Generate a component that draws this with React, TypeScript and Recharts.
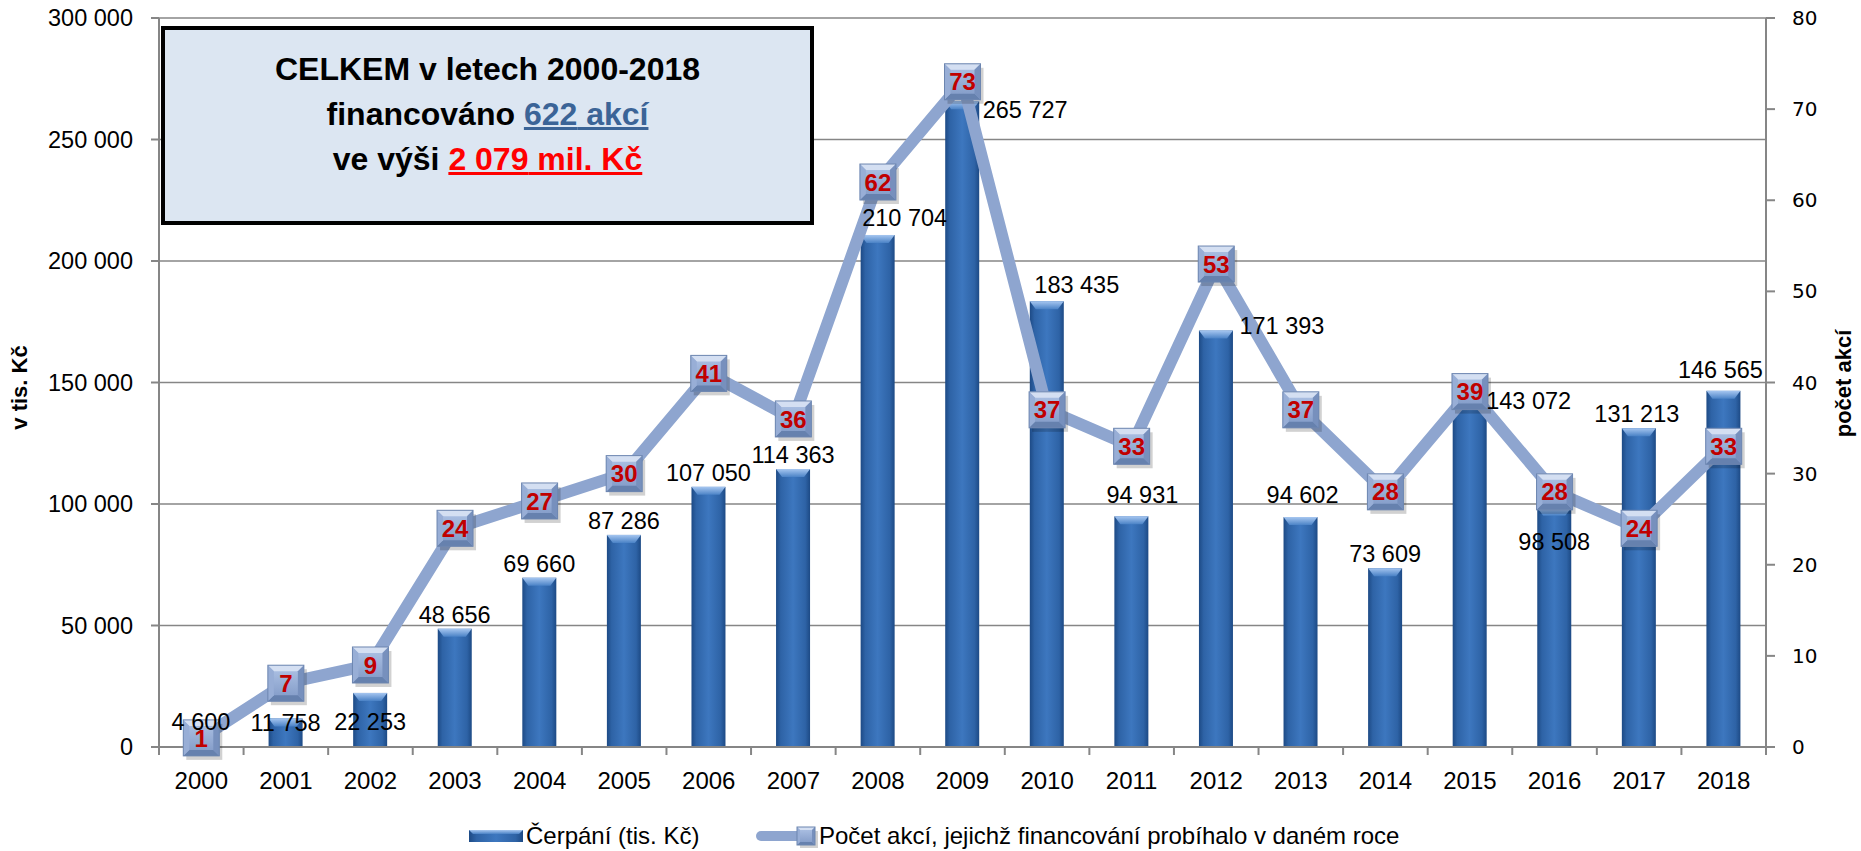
import React from 'react';
import {
  ComposedChart,
  Bar,
  Line,
  XAxis,
  YAxis,
  CartesianGrid,
  LabelList,
} from 'recharts';

// roky
const years = [
  '2000', '2001', '2002', '2003', '2004', '2005', '2006', '2007', '2008', '2009',
  '2010', '2011', '2012', '2013', '2014', '2015', '2016', '2017', '2018',
];

// Čerpání (tis. Kč)
const cerpani = [
  4600, 11758, 22253, 48656, 69660, 87286, 107050, 114363, 210704, 265727,
  183435, 94931, 171393, 94602, 73609, 143072, 98508, 131213, 146565,
];

// Počet akcí, jejichž financování probíhalo v daném roce
const pocetAkci = [1, 7, 9, 24, 27, 30, 41, 36, 62, 73, 37, 33, 53, 37, 28, 39, 28, 24, 33];

const leftTicks = [0, 50000, 100000, 150000, 200000, 250000, 300000];
const rightTicks = [0, 10, 20, 30, 40, 50, 60, 70, 80];

// ručně posunuté popisky sloupců (v px, oproti pozici nad sloupcem)
const labelShiftX = [0, 0, 0, 0, 0, 0, 0, 0, 27, 63, 30, 11, 66, 2, 0, 59, 0, -2, -3];
const labelShiftY = [0, 18, 43, 0, 0, 0, 0, 0, -3, 22, -2, -8, 9, -8, 0, 15, 48, 0, -7];

const data = years.map((year, i) => ({ year, cerpani: cerpani[i], pocet: pocetAkci[i] }));

const totalAkci = pocetAkci.reduce((a, b) => a + b, 0);
const totalMil = Math.round(cerpani.reduce((a, b) => a + b, 0) / 1000);

const W = 1861;
const H = 851;
const PLOT_LEFT = 159;
const PLOT_RIGHT = 1766;
const PLOT_TOP = 18;
const PLOT_BOTTOM = 747;
const BAND = (PLOT_RIGHT - PLOT_LEFT) / years.length;

const FONT = "'Liberation Sans', Arial, sans-serif";
const GRID = '#868686';
const LINE = '#8EA5CF';

const fmt = (v: number) => String(v).replace(/\B(?=(\d{3})+(?!\d))/g, ' ');

function BevelBar(props: any) {
  const { x, y, width, height } = props;
  if (!height || height <= 0) return null;
  const b = Math.min(8, height / 2);
  return (
    <g>
      <rect x={x} y={y} width={width} height={height} fill="url(#barBody)" />
      <polygon
        points={`${x},${y} ${x + width},${y} ${x + width - 6},${y + b} ${x + 6},${y + b}`}
        fill="url(#barTop)"
      />
    </g>
  );
}

function SquareMarker({ cx, cy, size }: { cx: number; cy: number; size: number }) {
  const s = size;
  const x = cx - s / 2;
  const y = cy - s / 2;
  const b = s / 6;
  return (
    <g>
      <rect x={x + 3} y={y + 4} width={s} height={s} fill="#000" opacity={0.18} />
      <rect x={x} y={y} width={s} height={s} fill="url(#mkFace)" />
      <polygon points={`${x},${y} ${x + s},${y} ${x + s - b},${y + b} ${x + b},${y + b}`} fill="#d4dff2" />
      <polygon points={`${x},${y + s} ${x + s},${y + s} ${x + s - b},${y + s - b} ${x + b},${y + s - b}`} fill="#6681ae" />
      <polygon points={`${x},${y} ${x + b},${y + b} ${x + b},${y + s - b} ${x},${y + s}`} fill="#98aed6" />
      <polygon points={`${x + s},${y} ${x + s - b},${y + b} ${x + s - b},${y + s - b} ${x + s},${y + s}`} fill="#7790bd" />
      <rect x={x} y={y} width={s} height={s} fill="none" stroke="#6d86b0" strokeWidth={1} />
    </g>
  );
}

function XTick(props: any) {
  const { x, payload, index } = props;
  const half = BAND / 2;
  return (
    <g>
      <line x1={x - half} x2={x - half} y1={PLOT_BOTTOM} y2={PLOT_BOTTOM + 8} stroke={GRID} strokeWidth={2} />
      {index === years.length - 1 && (
        <line x1={x + half} x2={x + half} y1={PLOT_BOTTOM} y2={PLOT_BOTTOM + 8} stroke={GRID} strokeWidth={2} />
      )}
      <text x={x} y={PLOT_BOTTOM + 34} dy="0.35em" textAnchor="middle" fontSize={24} fontFamily={FONT} fill="#000">
        {payload.value}
      </text>
    </g>
  );
}

function BarLabel(props: any) {
  const { x, y, width, value, index } = props;
  const cx = Number(x) + Number(width) / 2 + labelShiftX[index];
  const cy = Number(y) - 14 + labelShiftY[index];
  return (
    <text x={cx} y={cy} dy="0.35em" textAnchor="middle" fontSize={23.5} fontFamily={FONT} fill="#000">
      {fmt(Number(value))}
    </text>
  );
}

function CountLabel(props: any) {
  const { x, y, value } = props;
  return (
    <text x={x} y={y} dy="0.36em" textAnchor="middle" fontSize={24} fontWeight="bold" fontFamily={FONT} fill="#C00000">
      {value}
    </text>
  );
}

const leftTitle = (p: any) => {
  const vb = p.viewBox;
  const cx = vb.x + 19;
  const cy = vb.y + vb.height / 2 + 5;
  return (
    <text x={cx} y={cy} transform={`rotate(-90 ${cx} ${cy})`} textAnchor="middle" dy="0.35em"
      fontSize={22} fontWeight="bold" fontFamily={FONT} fill="#000">
      v tis. Kč
    </text>
  );
};

const rightTitle = (p: any) => {
  const vb = p.viewBox;
  const cx = vb.x + 77;
  const cy = vb.y + vb.height / 2 + 1;
  return (
    <text x={cx} y={cy} transform={`rotate(-90 ${cx} ${cy})`} textAnchor="middle" dy="0.35em"
      fontSize={22} fontWeight="bold" fontFamily={FONT} fill="#000">
      počet akcí
    </text>
  );
};

export default function App() {
  return (
    <div style={{ position: 'absolute', left: 0, top: 0, width: W, height: H, background: '#fff' }}>
      <svg width={0} height={0} style={{ position: 'absolute' }}>
        <defs>
          <linearGradient id="barBody" x1="0" y1="0" x2="1" y2="0">
            <stop offset="0" stopColor="#1d4a85" />
            <stop offset="0.14" stopColor="#2e63a6" />
            <stop offset="0.5" stopColor="#3d77bf" />
            <stop offset="0.86" stopColor="#2e63a6" />
            <stop offset="1" stopColor="#1d4a85" />
          </linearGradient>
          <linearGradient id="barTop" x1="0" y1="0" x2="0" y2="1">
            <stop offset="0" stopColor="#a6c6f0" />
            <stop offset="1" stopColor="#4a82c6" />
          </linearGradient>
          <linearGradient id="mkFace" x1="0" y1="0" x2="0" y2="1">
            <stop offset="0" stopColor="#b0c4e6" />
            <stop offset="1" stopColor="#7f98c5" />
          </linearGradient>
        </defs>
      </svg>

      <ComposedChart width={W} height={H} data={data} margin={{ top: PLOT_TOP, right: 0, bottom: 0, left: 0 }}>
        <CartesianGrid yAxisId="left" vertical={false} stroke={GRID} strokeWidth={1.5} />
        <XAxis
          dataKey="year"
          height={H - PLOT_BOTTOM}
          interval={0}
          axisLine={{ stroke: GRID, strokeWidth: 2 }}
          tickLine={false}
          tick={(p: any) => <XTick {...p} />}
        />
        {/* skrytá osa jen pro popisky sloupců nad čarou */}
        <XAxis xAxisId="labels" dataKey="year" hide />
        <YAxis
          yAxisId="left"
          width={PLOT_LEFT}
          domain={[0, 300000]}
          ticks={leftTicks}
          interval={0}
          tickFormatter={fmt}
          tickSize={8}
          tickMargin={18}
          axisLine={{ stroke: GRID, strokeWidth: 2 }}
          tickLine={{ stroke: GRID, strokeWidth: 2 }}
          tick={{ fontSize: 23.5, fontFamily: FONT, fill: '#000' }}
          label={{ value: 'v tis. Kč', content: leftTitle }}
        />
        <YAxis
          yAxisId="right"
          orientation="right"
          width={W - PLOT_RIGHT}
          domain={[0, 80]}
          ticks={rightTicks}
          interval={0}
          tickSize={9}
          tickMargin={17}
          axisLine={{ stroke: GRID, strokeWidth: 2 }}
          tickLine={{ stroke: GRID, strokeWidth: 2 }}
          tick={{ fontSize: 20, fontFamily: "'DejaVu Sans', Verdana, sans-serif", fill: '#000' }}
          label={{ value: 'počet akcí', content: rightTitle }}
        />
        <Bar
          yAxisId="left"
          dataKey="cerpani"
          name="Čerpání (tis. Kč)"
          barSize={34}
          isAnimationActive={false}
          shape={(p: any) => <BevelBar {...p} />}
        />
        <Line
          yAxisId="right"
          type="linear"
          dataKey="pocet"
          name="Počet akcí, jejichž financování probíhalo v daném roce"
          stroke={LINE}
          strokeWidth={12}
          strokeLinejoin="round"
          activeDot={false}
          isAnimationActive={false}
          dot={(p: any) => <SquareMarker key={`m${p.index}`} cx={p.cx} cy={p.cy} size={36} />}
        >
          <LabelList dataKey="pocet" content={CountLabel} />
        </Line>
        <Bar
          xAxisId="labels"
          yAxisId="left"
          dataKey="cerpani"
          barSize={34}
          fill="none"
          legendType="none"
          isAnimationActive={false}
          shape={() => <g />}
        >
          <LabelList dataKey="cerpani" content={BarLabel} />
        </Bar>
      </ComposedChart>

      {/* souhrnný rámeček */}
      <div
        style={{
          position: 'absolute',
          left: 161,
          top: 26,
          width: 653,
          height: 199,
          boxSizing: 'border-box',
          border: '4.5px solid #000',
          background: '#DCE6F2',
          fontFamily: FONT,
          fontWeight: 'bold',
          fontSize: 32,
          lineHeight: '45px',
          textAlign: 'center',
          paddingTop: 17,
          color: '#000',
        }}
      >
        <div>CELKEM v letech {years[0]}-{years[years.length - 1]}</div>
        <div>
          financováno <span style={{ color: '#3B6497', textDecoration: 'underline' }}>{totalAkci} akcí</span>
        </div>
        <div>
          ve výši <span style={{ color: '#FF0000', textDecoration: 'underline' }}>{fmt(totalMil)} mil. Kč</span>
        </div>
      </div>

      {/* legenda */}
      <div style={{ position: 'absolute', left: 469, top: 821, height: 30, display: 'flex', alignItems: 'center', fontFamily: FONT, fontSize: 24 }}>
        <svg width={54} height={14} style={{ marginRight: 3 }}>
          <rect x={0} y={1} width={54} height={12} fill="url(#barBody)" />
          <polygon points="0,1 54,1 50,5 4,5" fill="url(#barTop)" />
        </svg>
        <span>Čerpání (tis. Kč)</span>
      </div>
      <div style={{ position: 'absolute', left: 756, top: 821, height: 30, display: 'flex', alignItems: 'center', fontFamily: FONT, fontSize: 24 }}>
        <svg width={63} height={24}>
          <line x1={5} y1={12} x2={52} y2={12} stroke={LINE} strokeWidth={10} strokeLinecap="round" />
          <SquareMarker cx={50} cy={12} size={18} />
        </svg>
        <span>Počet akcí, jejichž financování probíhalo v daném roce</span>
      </div>
    </div>
  );
}
